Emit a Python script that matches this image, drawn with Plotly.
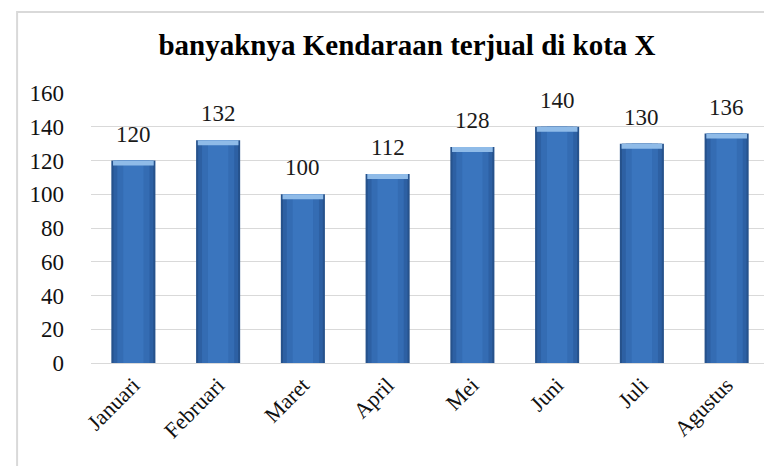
import plotly.graph_objects as go

months = ["Januari", "Februari", "Maret", "April", "Mei", "Juni", "Juli", "Agustus"]
sales = [120, 132, 100, 112, 128, 140, 130, 136]
y_ticks = [0, 20, 40, 60, 80, 100, 120, 140, 160]
title_text = "banyaknya Kendaraan terjual di kota X"

FONT = "Liberation Serif, Times New Roman, serif"
bevel = 3

fig = go.Figure()
# layered bars to imitate the shaded 3D look
layers = [
    (0.52, "#26528C"),
    (0.47, "#2D60A3"),
    (0.38, "#346CB3"),
    (0.24, "#3A75BE"),
]
for w, c in layers:
    fig.add_trace(go.Bar(x=months, y=sales, width=w, marker=dict(color=c, line=dict(width=0)),
                         hoverinfo="skip", showlegend=False))
# light top bevel
fig.add_trace(go.Bar(x=months, y=[bevel] * len(sales), base=[v - bevel for v in sales], width=0.48,
                     marker=dict(color="#8FBBE8", line=dict(width=0)), hoverinfo="skip", showlegend=False))

for m, v in zip(months, sales):
    fig.add_annotation(x=m, y=v, text=str(v), showarrow=False, yanchor="bottom", yshift=12,
                       font=dict(family=FONT, size=23, color="#1a1a1a"))

fig.add_shape(type="rect", xref="paper", yref="paper", x0=-0.109, x1=1.2, y0=-0.7, y1=1.3,
              line=dict(color="#D9D9D9", width=2), fillcolor="rgba(0,0,0,0)", layer="below")

fig.update_layout(
    width=772, height=466,
    margin=dict(l=83, r=11, t=85, b=111),
    paper_bgcolor="white", plot_bgcolor="white",
    barmode="overlay",
    title=dict(text="<b>" + title_text + "</b>", x=399 / 772, xanchor="center", xref="container",
               y=1 - 37 / 466, yanchor="middle", yref="container",
               font=dict(family=FONT, size=29, color="#000000")),
    font=dict(family=FONT, color="#000000"),
)
fig.update_xaxes(tickangle=-45, tickfont=dict(family=FONT, size=22, color="#111111"),
                 showgrid=False, showline=False, ticks="", ticklabelstandoff=4)
fig.update_yaxes(range=[0, 160], tickvals=y_ticks, ticktext=[str(t) for t in y_ticks],
                 tickfont=dict(family=FONT, size=23, color="#111111"),
                 showgrid=True, gridcolor="#D9D9D9", gridwidth=1, zeroline=True, zerolinecolor="#D9D9D9",
                 zerolinewidth=1, showline=False, ticks="", ticklabelstandoff=26)

fig.write_html("out.html")
